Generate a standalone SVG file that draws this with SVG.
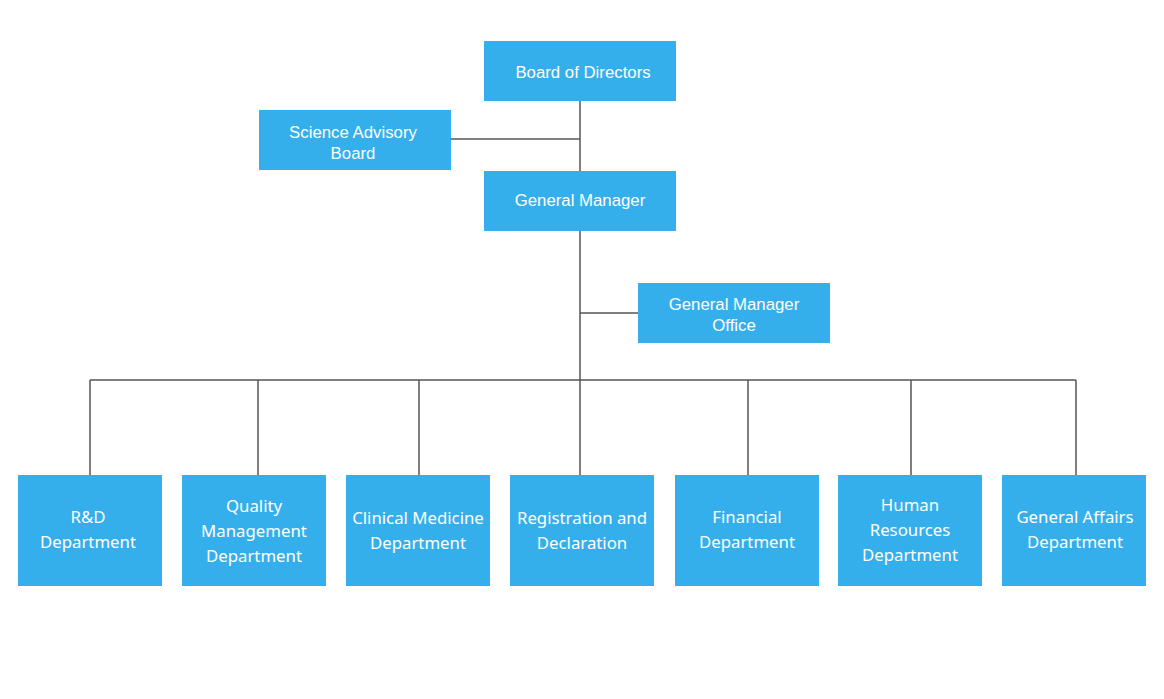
<svg xmlns="http://www.w3.org/2000/svg" width="1164" height="699" viewBox="0 0 1164 699">
<style>
.box{fill:#35AFEB}
.bbox{fill:#35AFEB}
.t1{font-family:"Liberation Sans",Arial,sans-serif;font-size:16.8px;fill:#fff;text-anchor:middle}
.t2{font-family:"Segoe UI","Noto Sans",sans-serif;font-size:16.8px;fill:#fff;text-anchor:middle}
.ln{stroke:#555;stroke-width:1.5;fill:none}
</style>
<rect width="1164" height="699" fill="#fff"/>
<g id="connectors">
<path class="ln" d="M580 101V475"/>
<path class="ln" d="M451 139H580"/>
<path class="ln" d="M580 313H638"/>
<path class="ln" d="M90 380H1076"/>
<path class="ln" d="M90 380V475M258 380V475M419 380V475M748 380V475M911 380V475M1076 380V475"/>
</g>
<g id="board"><rect class="box" x="484" y="41" width="192" height="60"/><text class="t1" x="583" y="78">Board of Directors</text></g>
<g id="sab"><rect class="box" x="259" y="110" width="192" height="60"/><text class="t1" x="353" y="137.5">Science Advisory</text><text class="t1" x="353" y="158.5">Board</text></g>
<g id="gm"><rect class="box" x="484" y="171" width="192" height="60"/><text class="t1" x="580" y="206">General Manager</text></g>
<g id="gmo"><rect class="box" x="638" y="283" width="192" height="60"/><text class="t1" x="734" y="310">General Manager</text><text class="t1" x="734" y="331">Office</text></g>
<g id="rd"><rect class="bbox" x="18" y="475" width="144" height="111"/><text class="t2" x="88" y="523">R&amp;D</text><text class="t2" x="88" y="548">Department</text></g>
<g id="qm"><rect class="bbox" x="182" y="475" width="144" height="111"/><text class="t2" x="254" y="512">Quality</text><text class="t2" x="254" y="537">Management</text><text class="t2" x="254" y="562">Department</text></g>
<g id="cm"><rect class="bbox" x="346" y="475" width="144" height="111"/><text class="t2" x="418" y="524">Clinical Medicine</text><text class="t2" x="418" y="549">Department</text></g>
<g id="reg"><rect class="bbox" x="510" y="475" width="144" height="111"/><text class="t2" x="582" y="524">Registration and</text><text class="t2" x="582" y="549">Declaration</text></g>
<g id="fin"><rect class="bbox" x="675" y="475" width="144" height="111"/><text class="t2" x="747" y="523">Financial</text><text class="t2" x="747" y="548">Department</text></g>
<g id="hr"><rect class="bbox" x="838" y="475" width="144" height="111"/><text class="t2" x="910" y="511">Human</text><text class="t2" x="910" y="536">Resources</text><text class="t2" x="910" y="561">Department</text></g>
<g id="ga"><rect class="bbox" x="1002" y="475" width="144" height="111"/><text class="t2" x="1075" y="523">General Affairs</text><text class="t2" x="1075" y="548">Department</text></g>
</svg>
